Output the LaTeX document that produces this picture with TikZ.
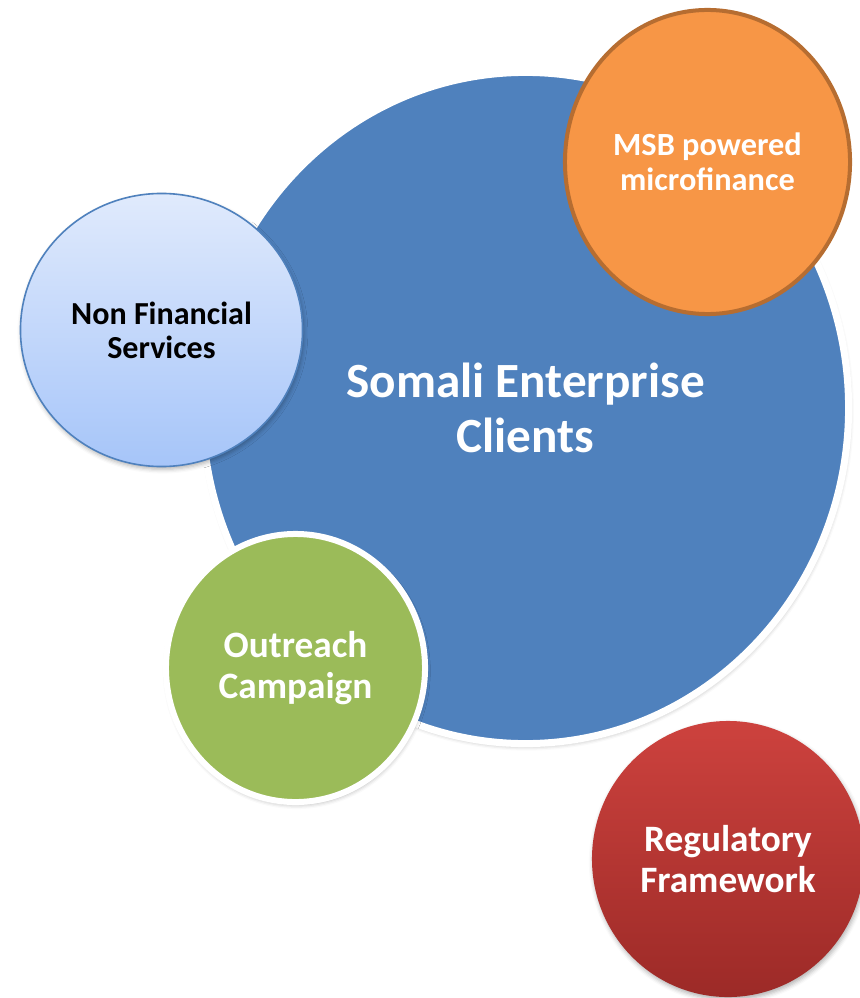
\documentclass[tikz,border=0pt]{standalone}
\usepackage{fontspec}
\setmainfont{Carlito}
\usepackage{xcolor}
\usetikzlibrary{shapes.geometric,shadows.blur}
\definecolor{hubblue}{HTML}{4F81BD}
\definecolor{msborange}{HTML}{F79646}
\definecolor{msbrim}{HTML}{B66D31}
\definecolor{nfstop}{HTML}{E0EAFC}
\definecolor{nfsbottom}{HTML}{A6C5F9}
\definecolor{outgreen}{HTML}{9BBB59}
\definecolor{regtop}{HTML}{CD423E}
\definecolor{regbottom}{HTML}{9C2A27}

\begin{document}
\begin{tikzpicture}[
  x=0.025cm, y=-0.025cm,
  font=\bfseries,
  bubble/.style={ellipse, inner sep=0pt, align=center},
  soft/.style={blur shadow={shadow xshift=0.8pt, shadow yshift=-2pt,
                            shadow opacity=30, shadow blur radius=3pt}},
  hub/.style={bubble, soft, fill=hubblue, draw=white, line width=0.175cm,
              minimum width=16.15cm, minimum height=16.775cm, text=white,
              font=\bfseries\fontsize{35}{39}\selectfont},
  msb/.style={bubble, fill=msborange, draw=msbrim, line width=0.1cm,
              minimum width=7.125cm, minimum height=7.6cm, text=white,
              font=\bfseries\fontsize{23}{25}\selectfont},
  nfs/.style={bubble, soft, top color=nfstop, bottom color=nfsbottom,
              draw=hubblue, line width=0.04cm,
              minimum width=7.05cm, minimum height=6.825cm, text=black,
              font=\bfseries\fontsize{22.8}{24}\selectfont},
  outreach/.style={bubble, soft, fill=outgreen, draw=white, line width=0.15cm,
                   minimum width=6.475cm, minimum height=6.7cm, text=white,
                   font=\bfseries\fontsize{26.5}{29}\selectfont},
  regframe/.style={bubble, soft, top color=regtop, bottom color=regbottom,
                   minimum width=6.8cm, minimum height=6.9cm, text=white,
                   font=\bfseries\fontsize{26.5}{29}\selectfont}
]
  \useasboundingbox (0,0) rectangle (860,998);
  \node[hub] (clients) at (525.5,408) {Somali Enterprise\\Clients};
  \node[msb] (msb) at (707.5,162) {MSB powered\\microfinance};
  \node[nfs] (nonfin) at (161.5,330) {Non Financial\\Services};
  \node[outreach] (outreach) at (295.5,668) {Outreach\\Campaign};
  \node[regframe] (reg) at (728,859) {Regulatory\\Framework};
\end{tikzpicture}
\end{document}
